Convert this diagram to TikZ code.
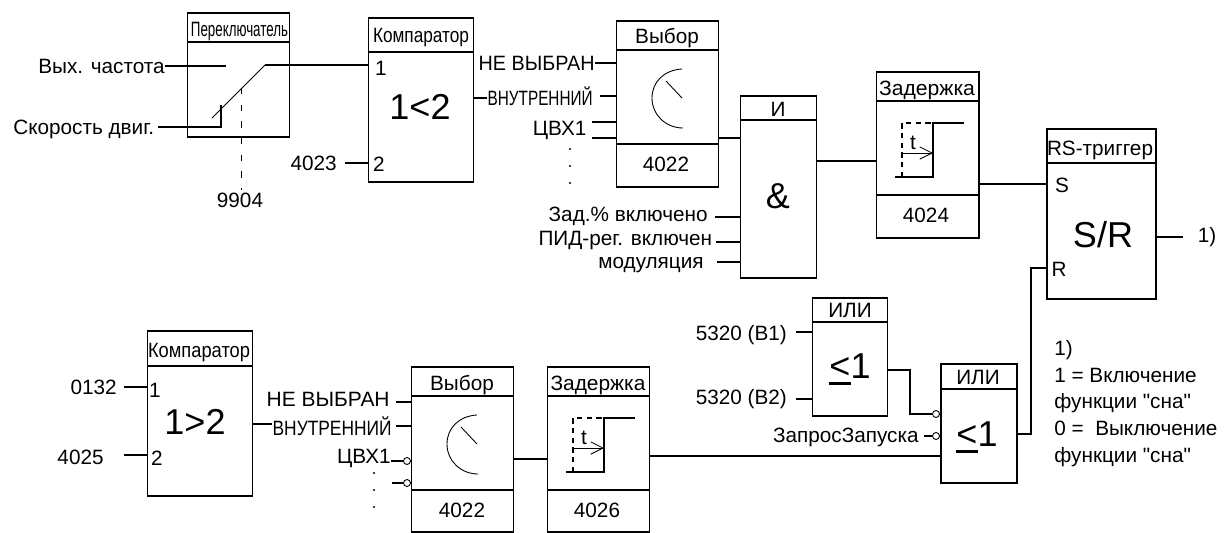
\documentclass[tikz,border=0pt]{standalone}
\usepackage{fontspec}
\setmainfont{Liberation Sans}
\newfontfamily\plainfont{Liberation Sans}
\usetikzlibrary{arrows.meta}
\newlength\pxu
\setlength\pxu{0.02cm}
\newcommand{\squeeze}[2]{\resizebox{#1\pxu}{\height}{#2}}
\newcommand{\lessline}{\rlap{\rule[-3.6pt]{12pt}{1.4pt}}<}
\tikzset{
  blockbox/.style 2 args={draw,line width=.85pt,minimum width=#1\pxu,minimum height=#2\pxu,anchor=north west,inner sep=0},
  wire/.style={line width=.8pt},
  thinwire/.style={line width=.5pt},
  txt/.style={font=\fontsize{11.8}{14}\selectfont,inner ysep=0,inner xsep=0,text height=8.5pt,text depth=0pt},
  lbl/.style={txt,anchor=east,inner xsep=2pt},
  bigtxt/.style={font=\fontsize{20.5}{24}\selectfont,inner sep=0},
  invpin/.style={draw,circle,thinwire,fill=white,minimum size=7\pxu,inner sep=0},
  dotpt/.style={circle,fill,minimum size=2.4\pxu,inner sep=0},
}
\begin{document}
\begin{tikzpicture}[x=0.02cm,y=-0.02cm]
\useasboundingbox (0,0) rectangle (1225,532);
% blocks
\node[blockbox={102}{124}] (swA) at (187,12) {};
\node[blockbox={105}{164}] (cmpA) at (368,17) {};
\node[blockbox={102}{166}] (selA) at (616,20) {};
\node[blockbox={76}{182}] (andA) at (740,95) {};
\node[blockbox={102}{166}] (dlyA) at (876,71) {};
\node[blockbox={109}{170}] (rsA) at (1046,128) {};
\node[blockbox={105}{165}] (cmpB) at (147,330) {};
\node[blockbox={102}{165}] (selB) at (411,366) {};
\node[blockbox={102}{165}] (dlyB) at (547,366) {};
\node[blockbox={75}{118}] (orA) at (812,297) {};
\node[blockbox={76}{119}] (orB) at (940,363) {};
% dividers
\draw[wire] (swA.west |- 0,42)--(swA.east |- 0,42);
\draw[wire] (cmpA.west |- 0,52)--(cmpA.east |- 0,52);
\draw[wire] (selA.west |- 0,50)--(selA.east |- 0,50) (selA.west |- 0,144)--(selA.east |- 0,144);
\draw[wire] (andA.west |- 0,120)--(andA.east |- 0,120);
\draw[wire] (dlyA.west |- 0,101)--(dlyA.east |- 0,101) (dlyA.west |- 0,195)--(dlyA.east |- 0,195);
\draw[wire] (rsA.west |- 0,163)--(rsA.east |- 0,163);
\draw[wire] (cmpB.west |- 0,366)--(cmpB.east |- 0,366);
\draw[wire] (selB.west |- 0,396)--(selB.east |- 0,396) (selB.west |- 0,490)--(selB.east |- 0,490);
\draw[wire] (dlyB.west |- 0,396)--(dlyB.east |- 0,396) (dlyB.west |- 0,490)--(dlyB.east |- 0,490);
\draw[wire] (orA.west |- 0,322)--(orA.east |- 0,322);
\draw[wire] (orB.west |- 0,389)--(orB.east |- 0,389);
% block titles
\node[txt] (swAt) at (239.5,29) {\squeeze{97}{Переключатель}};
\node[txt] (cmpAt) at (421,35) {\squeeze{96}{Компаратор}};
\node[txt] (selAt) at (667,36) {Выбор};
\node[txt] (andAt) at (778,109) {И};
\node[txt] (dlyAt) at (927,88) {\squeeze{96}{Задержка}};
\node[txt] (rsAt) at (1100,148) {\squeeze{106}{RS-триггер}};
\node[txt] (cmpBt) at (199,350) {\squeeze{102}{Компаратор}};
\node[txt] (selBt) at (462,383) {Выбор};
\node[txt] (dlyBt) at (598,383) {\squeeze{95}{Задержка}};
\node[txt] (orAt) at (850,310) {ИЛИ};
\node[txt] (orBt) at (978,377) {ИЛИ};
% block numbers
\node[txt] (selAn) at (666,164) {4022};
\node[txt] (dlyAn) at (926,215) {4024};
\node[txt] (selBn) at (462,510) {4022};
\node[txt] (dlyBn) at (597,510) {4026};
% big marks
\node[bigtxt] (cmpAm) at (420,107) {1<2};
\node[bigtxt] (andAm) at (778,196) {\&};
\node[bigtxt] (rsAm) at (1103,235) {S/R};
\node[bigtxt] (cmpBm) at (195,422) {1>2};
\node[bigtxt] (orAm) at (850,369) {\lessline 1};
\node[bigtxt] (orBm) at (977,437) {\lessline 1};
% pin names
\node[txt] (cmpA1) at (381,68) {1};
\node[txt] (cmpA2) at (379,164) {2};
\node[txt] (cmpB1) at (155,390) {1};
\node[txt] (cmpB2) at (157,458) {2};
\node[txt] (rsAs) at (1062,185) {S};
\node[txt] (rsAr) at (1059,269) {R};
% inputs, top row
\node[lbl,inner xsep=0] (inFreq) at (165,66) {Вых. частота};
\node[lbl] (inSpeed) at (158,127) {Скорость двиг.};
\node[txt] (inType) at (240,200) {9904};
\node[lbl,inner xsep=4.5pt] (inLim) at (345,163) {4023};
\node[lbl,inner xsep=0] (aNone) at (595,63) {\squeeze{116}{НЕ ВЫБРАН}};
\node[lbl,inner xsep=0] (aInt) at (593,98) {\squeeze{105}{ВНУТРЕННИЙ}};
\node[lbl,inner xsep=3pt] (aDi) at (592,128) {ЦВХ1};
\node[lbl,inner xsep=4pt] (aRef) at (715,214) {Зад.\% включено};
\node[lbl] (aPid) at (716,238) {ПИД-рег. включен};
\node[lbl,inner xsep=7.4pt] (aMod) at (717,261) {модуляция};
\node[txt] (rsOut) at (1207,235) {1)};
% inputs, bottom row
\node[lbl,inner xsep=4pt] (inAct) at (124,387) {0132};
\node[lbl,inner xsep=11.4pt] (inSet) at (124,457) {4025};
\node[lbl,inner xsep=0] (bNone) at (390,399) {\squeeze{123}{НЕ ВЫБРАН}};
\node[lbl,inner xsep=0] (bInt) at (392,428) {\squeeze{119}{ВНУТРЕННИЙ}};
\node[lbl,inner xsep=0] (bDi) at (391,456) {ЦВХ1};
\node[lbl,inner xsep=5pt] (orIn1) at (796,333) {5320 (В1)};
\node[lbl,inner xsep=5pt] (orIn2) at (796,397) {5320 (В2)};
\node[lbl,inner xsep=0] (orReq) at (919,435) {ЗапросЗапуска};
\node[anchor=north west,align=left,inner sep=0,font=\plainfont\fontsize{11.8}{15.2}\selectfont] (note) at (1054,340) {1)\\1 = Включение\\функции "сна"\\0 =\ \ Выключение\\функции "сна"};
% inverted pins
\node[invpin] (pinDi) at (407,461) {};
\node[invpin] (pinFree) at (407,483) {};
\node[invpin] (pinOr) at (936,414) {};
\node[invpin] (pinReq) at (936,436) {};
% switch
\coordinate (swBl) at (212,118);
\coordinate (swTr) at (265,65);
\coordinate (swOff) at (226,66);
\coordinate (swKnee) at (221,127);
\coordinate (swTip) at (221,105);
\draw[wire] (inFreq.east |- 0,66)--(swOff);
\draw[wire] (inSpeed.east |- 0,127)--(swKnee)--(swTip);
\draw[thinwire] (swBl)--(swTr);
\draw[wire] (swTr)--(cmpA.west |- swTr);
\draw[line width=1pt,dash pattern=on 3.5pt off 6pt] (241.5,88)--(241.5,190);
% wires, top row
\draw[wire] (inLim.east |- 0,163)--(cmpA.west |- 0,163);
\draw[wire] (aNone.east |- 0,63)--(selA.west |- 0,63);
\draw[wire] (cmpA.east |- 0,98)--(aInt.west |- 0,98);
\draw[wire] (600,96)--(selA.west |- 0,96);
\draw[wire] (aDi.east |- 0,122)--(selA.west |- 0,122);
\draw[wire] (aDi.east |- 0,138)--(selA.west |- 0,138);
\draw[wire] (selA.east |- 0,138)--(andA.west |- 0,138);
\draw[wire] (aRef.east |- 0,217)--(andA.west |- 0,217);
\draw[wire] (aPid.east |- 0,242)--(andA.west |- 0,242);
\draw[wire] (aMod.east |- 0,262)--(andA.west |- 0,262);
\draw[wire] (andA.east |- 0,161)--(dlyA.west |- 0,161);
\draw[wire] (dlyA.east |- 0,184)--(rsA.west |- 0,184);
\draw[wire] (rsA.east |- 0,237)--(1183,237);
\draw[wire] (rsA.west |- 0,268)--(1031,268)--(1031,434)--(orB.east |- 0,434);
% wires, bottom row
\draw[wire] (inAct.east |- 0,387)--(cmpB.west |- 0,387);
\draw[wire] (inSet.east |- 0,455)--(cmpB.west |- 0,455);
\draw[wire] (cmpB.east |- 0,424)--(bInt.west |- 0,424);
\draw[wire] (396,402)--(selB.west |- 0,402);
\draw[wire] (396,426)--(selB.west |- 0,426);
\draw[wire] (bDi.east |- 0,461)--(pinDi);
\draw[wire] (392,483)--(pinFree);
\draw[wire] (selB.east |- 0,459)--(dlyB.west |- 0,459);
\draw[wire] (dlyB.east |- 0,456)--(orB.west |- 0,456);
\draw[wire] (orIn1.east |- 0,332)--(orA.west |- 0,332);
\draw[wire] (orIn2.east |- 0,399)--(orA.west |- 0,399);
\draw[wire] (orA.east |- 0,370)--(910,370)--(910,414)--(pinOr);
\draw[wire] (924,436)--(pinReq);
% selector dial
\foreach \sx/\sy in {616/20,411/366}{
\begin{scope}[shift={(\sx,\sy)}]
\draw[thinwire] (66,49)..controls(48,50)and(36,62)..(36,78)..controls(36,95)and(50,108)..(67,108);
\draw[thinwire] (50,61)--(66,78);
\end{scope}
}
% delay step
\foreach \dx/\dy/\dn in {876/71/a,547/366/b}{
\begin{scope}[shift={(\dx,\dy)}]
\draw[wire] (88,52)--(57,52)--(57,106)--(19,106);
\draw[wire,dash pattern=on 3pt off 2.5pt] (26,106)--(26,52)--(57,52);
\draw[thinwire,-{Straight Barb[length=7pt,width=7pt]}] (26,82)--(57,82);
\node[txt] (t\dn) at (37,71) {t};
\end{scope}
}
% dots
\foreach \i in {149,166,183}
\node[dotpt] (dotA\i) at (570,\i) {};
\foreach \i in {473,490,507}
\node[dotpt] (dotB\i) at (374,\i) {};
\end{tikzpicture}
\end{document}
